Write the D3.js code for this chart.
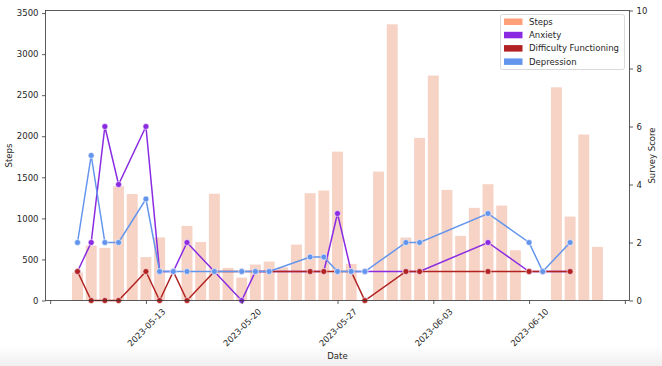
<html>
<head>
<script src="https://d3js.org/d3.v7.min.js"></script>
<style>
body { margin: 0; background: #fff; }
text { font-family: "DejaVu Sans", sans-serif; fill: #262626; }
</style>
</head>
<body>
<svg id="main_vis" width=662 height=366></svg>
<script>

// daily steps (bars)
var stepDates = ["2023-05-08","2023-05-09","2023-05-10","2023-05-11","2023-05-12","2023-05-13","2023-05-14",
  "2023-05-16","2023-05-17","2023-05-18","2023-05-19","2023-05-20","2023-05-21","2023-05-22","2023-05-23",
  "2023-05-24","2023-05-25","2023-05-26","2023-05-27","2023-05-28","2023-05-30","2023-05-31","2023-06-01",
  "2023-06-02","2023-06-03","2023-06-04","2023-06-05","2023-06-06","2023-06-07","2023-06-08","2023-06-09",
  "2023-06-12","2023-06-13","2023-06-14","2023-06-15"];
var steps = [341, 669, 641, 1391, 1296, 529, 768,
  908, 712, 1300, 397, 278, 438, 474, 405,
  681, 1306, 1339, 1813, 446, 1570, 3363, 767,
  1980, 2739, 1347, 787, 1128, 1416, 1156, 612,
  2596, 1022, 2021, 653];

// survey scores (lines)
var surveyDates = ["2023-05-08","2023-05-09","2023-05-10","2023-05-11","2023-05-13","2023-05-14","2023-05-15",
  "2023-05-16","2023-05-18","2023-05-20","2023-05-21","2023-05-22","2023-05-25","2023-05-26","2023-05-27",
  "2023-05-28","2023-05-29","2023-06-01","2023-06-02","2023-06-07","2023-06-10","2023-06-11","2023-06-13"];
var anxiety    = [1, 2, 6, 4, 6, 1, 1, 2, 1, 0, 1, 1, 1,   1,   3, 1, 1, 1, 1, 2, 1, 1, 1];
var difficulty = [1, 0, 0, 0, 1, 0, 1, 0, 1, 1, 1, 1, 1,   1,   1, 1, 0, 1, 1, 1, 1, 1, 1];
var depression = [2, 5, 2, 2, 3.5, 1, 1, 1, 1, 1, 1, 1, 1.5, 1.5, 1, 1, 1, 2, 2, 3, 2, 1, 2];

// x ticks
var xTickDates = ["2023-05-06","2023-05-13","2023-05-20","2023-05-27","2023-06-03","2023-06-10","2023-06-17"];
var xTickLabels = ["", "2023-05-13", "2023-05-20", "2023-05-27", "2023-06-03", "2023-06-10", ""];
var stepTicks = [0, 500, 1000, 1500, 2000, 2500, 3000, 3500];
var scoreTicks = [0, 2, 4, 6, 8, 10];

var legendNames = ["Steps", "Anxiety", "Difficulty Functioning", "Depression"];
var legendColors = ["#FFA07A", "#8A2BE2", "#B22222", "#6495ED"];

var parse = d3.timeParse("%Y-%m-%d");
var DAY = 864e5;
var svg = d3.select("#main_vis");

// bottom grey strip of the screenshot
var grad = svg.append("defs").append("linearGradient").attr("id", "fade")
  .attr("x1", 0).attr("y1", 0).attr("x2", 0).attr("y2", 1);
grad.append("stop").attr("offset", "0%").attr("stop-color", "#fff");
grad.append("stop").attr("offset", "100%").attr("stop-color", "#efefef");
svg.append("rect").attr("x", 0).attr("y", 346).attr("width", 662).attr("height", 20).attr("fill", "url(#fade)");

var pL = 45.5, pR = 629.5, pT = 10.5, pB = 300.5;

// x scale: bars span +-0.4 day, 5% margin like matplotlib
var t0 = parse(stepDates[0]).getTime() - 0.4 * DAY;
var t1 = parse(stepDates[stepDates.length - 1]).getTime() + 0.4 * DAY;
var pad = (t1 - t0) * 0.05;
var x = d3.scaleTime()
  .domain([new Date(t0 - pad), new Date(t1 + pad)])
  .range([pL, pR]);

var yL = d3.scaleLinear()
  .domain([0, d3.max(steps) * 1.05])
  .range([pB, pT]);

var yR = d3.scaleLinear()
  .domain([0, 10])
  .range([pB, pT]);

// bars
svg.append("g").selectAll("rect")
  .data(steps)
  .enter().append("rect")
    .attr("x", function(d, i) { return x(new Date(parse(stepDates[i]).getTime() - 0.4 * DAY)); })
    .attr("width", function(d, i) { return x(new Date(parse(stepDates[i]).getTime() + 0.4 * DAY)) - x(new Date(parse(stepDates[i]).getTime() - 0.4 * DAY)); })
    .attr("y", function(d) { return yL(d); })
    .attr("height", function(d) { return yL(0) - yL(d); })
    .attr("fill", "#F7D3C5");

// lines with markers
function drawSeries(values, color) {
  var pts = values.map(function(v, i) { return { date: parse(surveyDates[i]), value: v }; });
  svg.append("path")
    .datum(pts)
    .attr("fill", "none")
    .attr("stroke", color)
    .attr("stroke-width", 1.5)
    .attr("d", d3.line()
      .x(function(d) { return x(d.date); })
      .y(function(d) { return yR(d.value); }));
  svg.append("g").selectAll("circle")
    .data(pts)
    .enter().append("circle")
      .attr("r", 3)
      .attr("cx", function(d) { return x(d.date); })
      .attr("cy", function(d) { return yR(d.value); })
      .attr("fill", color)
      .attr("stroke", "#fff")
      .attr("stroke-width", 0.6);
}
drawSeries(anxiety, "#8A2BE2");
drawSeries(difficulty, "#B22222");
drawSeries(depression, "#6495ED");

// axes
var axL = svg.append("g")
  .attr("transform", "translate(" + pL + ",0)")
  .call(d3.axisLeft(yL).tickValues(stepTicks).tickFormat(d3.format("d")).tickSize(3.5).tickPadding(3.5));
var axR = svg.append("g")
  .attr("transform", "translate(" + pR + ",0)")
  .call(d3.axisRight(yR).tickValues(scoreTicks).tickFormat(d3.format("d")).tickSize(3.5).tickPadding(3.5));
var axB = svg.append("g")
  .attr("transform", "translate(0," + pB + ")")
  .call(d3.axisBottom(x)
    .tickValues(xTickDates.map(parse))
    .tickFormat(function(d, i) { return xTickLabels[i]; })
    .tickSize(3.5));
axB.selectAll("text")
  .attr("y", 0).attr("dy", "0.35em")
  .attr("transform", "translate(0,27) rotate(-45)");

[axL, axR, axB].forEach(function(a) {
  a.select(".domain").remove();
  a.selectAll("line").attr("stroke", "#333").attr("stroke-width", 0.8);
  a.selectAll("text").attr("font-size", "8.5px").attr("fill", "#262626").attr("font-family", "DejaVu Sans, sans-serif");
});

// frame
svg.append("rect")
  .attr("x", pL).attr("y", pT)
  .attr("width", pR - pL).attr("height", pB - pT)
  .attr("fill", "none").attr("stroke", "#333").attr("stroke-width", 0.8);

// axis labels
svg.append("text").attr("x", (pL + pR) / 2).attr("y", 359)
  .attr("text-anchor", "middle").attr("font-size", "8.5px").text("Date");
svg.append("text").attr("transform", "translate(12," + (pT + pB) / 2 + ") rotate(-90)")
  .attr("text-anchor", "middle").attr("font-size", "8.5px").text("Steps");
svg.append("text").attr("transform", "translate(655," + (pT + pB) / 2 + ") rotate(-90)")
  .attr("text-anchor", "middle").attr("font-size", "8.5px").text("Survey Score");

// legend
var lg = svg.append("g");
lg.append("rect")
  .attr("x", 500.5).attr("y", 14.5).attr("width", 124).attr("height", 55).attr("rx", 2)
  .attr("fill", "#fff").attr("fill-opacity", 0.8).attr("stroke", "#d0d0d0").attr("stroke-width", 0.8);
legendNames.forEach(function(name, i) {
  var cy = 21.7 + i * 13.3;
  lg.append("rect").attr("x", 504).attr("y", cy - 3.2).attr("width", 18.5).attr("height", 6.5)
    .attr("fill", legendColors[i]);
  lg.append("text").attr("x", 529).attr("y", cy).attr("dy", "0.35em")
    .attr("font-size", "8.5px").text(name);
});

</script>
</body>
</html>
